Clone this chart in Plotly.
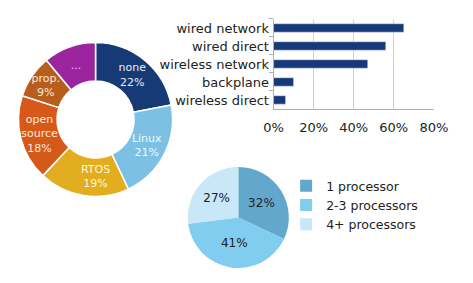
import plotly.graph_objects as go

# Donut: OS usage
os_labels = ["none", "Linux", "RTOS", "open source", "prop.", "..."]
os_text = ["none<br>22%", "Linux<br>21%", "RTOS<br>19%", "open<br>source<br>18%", "prop.<br>9%", "..."]
os_values = [22, 21, 19, 18, 9, 11]
os_colors = ["#163a75", "#7cc1e3", "#e2ad1e", "#d55a1a", "#b85e1c", "#9c249e"]
os_text_colors = ["#e8ecf5", "#eef7fc", "#fff6dc", "#fde8dc", "#fbe6d6", "#e8c8ea"]

# Bars: connectivity
conn_labels = ["wired network", "wired direct", "wireless network", "backplane", "wireless direct"]
conn_values = [65, 56, 47, 10, 6]
x_ticks = [0, 20, 40, 60, 80]
x_ticklabels = ["0%", "20%", "40%", "60%", "80%"]

# Pie: processors
proc_labels = ["1 processor", "2-3 processors", "4+ processors"]
proc_values = [32, 41, 27]
proc_colors = ["#62a8cc", "#81cdf0", "#c8e8f8"]

FONT = "DejaVu Sans"

fig = go.Figure()

fig.add_trace(go.Pie(
    labels=os_labels, values=os_values, text=os_text,
    textinfo="text", textposition="inside", insidetextorientation="horizontal",
    hole=0.5, sort=False, direction="clockwise", rotation=0,
    marker=dict(colors=os_colors, line=dict(color="white", width=1.5)),
    textfont=dict(family=FONT, size=11, color=os_text_colors),
    domain=dict(x=[0.019, 0.362], y=[0.2915, 0.864]),
    showlegend=False,
))

fig.add_trace(go.Bar(
    x=conn_values, y=conn_labels, orientation="h",
    marker=dict(color="#17397a"), width=0.47,
    xaxis="x", yaxis="y", showlegend=False,
))

fig.add_trace(go.Pie(
    labels=proc_labels, values=proc_values,
    texttemplate="%{value}%", textposition="inside", insidetextorientation="horizontal",
    sort=False, direction="clockwise", rotation=0,
    marker=dict(colors=proc_colors, line=dict(width=0)),
    textfont=dict(family=FONT, size=12, color="#222222"),
    domain=dict(x=[0.396, 0.621], y=[0.044, 0.419]),
    showlegend=True,
))

fig.update_layout(
    width=473, height=283,
    margin=dict(l=0, r=0, t=0, b=0),
    paper_bgcolor="white", plot_bgcolor="white",
    font=dict(family=FONT, size=12, color="#222222"),
    uniformtext=dict(mode="show", minsize=11),
    xaxis=dict(domain=[0.587, 0.944], range=[0, 80], tickvals=x_ticks, ticktext=x_ticklabels,
               showgrid=True, gridcolor="#d0d0d0", gridwidth=1, zeroline=False,
               showline=True, linecolor="#b0b0b0", ticks="", tickfont=dict(size=13),
               ticklabelstandoff=6),
    yaxis=dict(domain=[0.615, 0.933], autorange="reversed", showline=True, linecolor="#b0b0b0",
               ticks="outside", tickson="boundaries", ticklen=4, tickcolor="#b0b0b0",
               tickfont=dict(size=13), ticklabelstandoff=1),
    legend=dict(x=0.615, y=0.395, xanchor="left", yanchor="top", font=dict(size=12.5, color="#222222"),
                itemwidth=30, tracegroupgap=0, bgcolor="rgba(0,0,0,0)"),
)

fig.write_html("out.html")
